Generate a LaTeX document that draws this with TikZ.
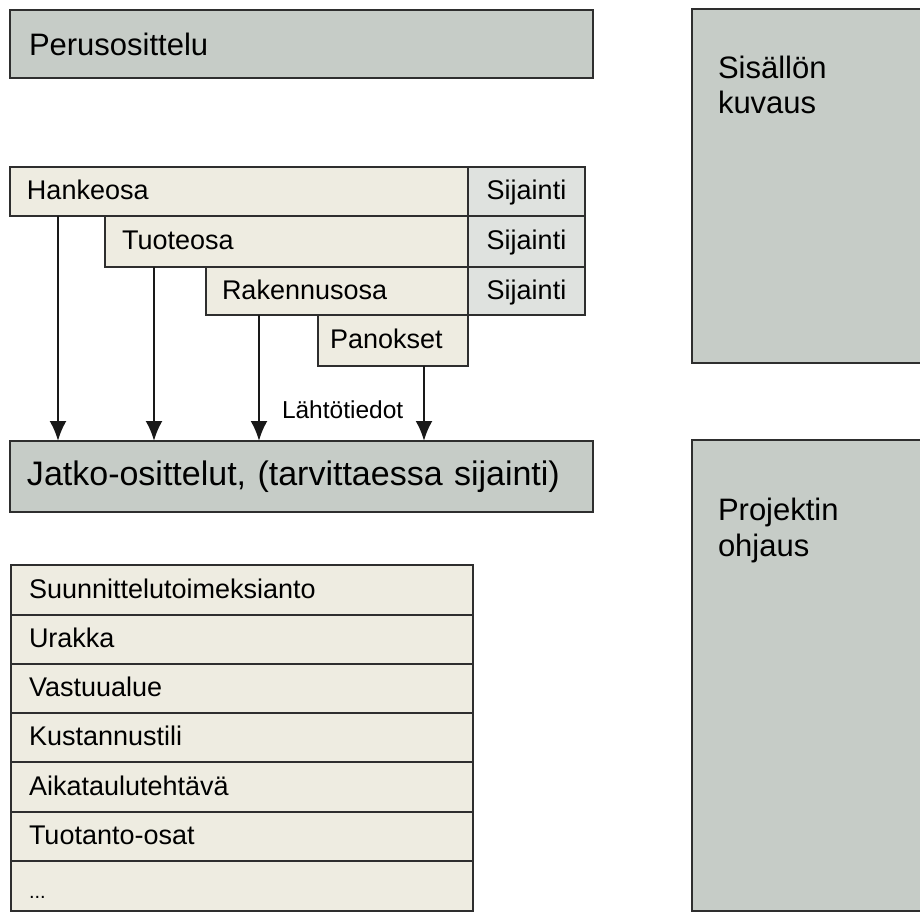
\documentclass[tikz,border=0pt]{standalone}
\usepackage{fontspec}
\setmainfont{Liberation Sans}
\usetikzlibrary{arrows.meta}
\definecolor{boxgray}{HTML}{C6CCC7}
\definecolor{beige}{HTML}{EEECE1}
\definecolor{sijgray}{HTML}{DFE2DF}
\definecolor{edge}{HTML}{2E2E2E}
\begin{document}
\begin{tikzpicture}[x=1pt,y=-1pt,
  panel/.style={draw=edge, line width=1.7pt, fill=boxgray, anchor=north west, inner ysep=0pt, outer sep=0pt, align=left},
  cell/.style={draw=edge, line width=1.3pt, fill=beige, anchor=north west, inner ysep=0pt, outer sep=0pt, align=left, text height=19pt, text depth=3pt, font=\fontsize{27}{30}\selectfont},
  sij/.style={cell, fill=sijgray, align=center, inner xsep=0pt},
  lab/.style={inner sep=0pt, outer sep=0pt},
  arr/.style={draw=black!90, line width=2.5pt, -{Latex[length=20pt,width=17pt]}}
]
\useasboundingbox (0,0) rectangle (920,913);
\fill[white] (0,0) rectangle (920,913);

% top panel
\node[panel, inner xsep=19pt, text width=545pt, minimum height=68pt, font=\fontsize{31}{36}\selectfont] (perus) at (10,10) {Perusosittelu};

% right panels
\node[panel, minimum width=240pt, minimum height=354pt] (sis) at (692,9) {};
\node[lab, anchor=north west, align=left, font=\fontsize{31}{35}\selectfont] (sistext) at (718,56) {Sisällön\\kuvaus};
\node[panel, minimum width=240pt, minimum height=471pt] (proj) at (692,440) {};
\node[lab, anchor=north west, align=left, font=\fontsize{31}{36}\selectfont] (projtext) at (718,498) {Projektin\\ohjaus};

% staircase
\node[cell, inner xsep=17pt, text width=424pt, minimum height=49pt] (hanke) at (10,167) {Hankeosa};
\node[cell, inner xsep=17pt, text width=329pt, minimum height=51pt] (tuote) at (105,216) {Tuoteosa};
\node[cell, inner xsep=16pt, text width=230pt, minimum height=48pt] (raken) at (206,267) {Rakennusosa};
\node[cell, inner xsep=12pt, text width=126pt, minimum height=51pt] (panos) at (318,315) {Panokset};
\node[sij, text width=117pt, minimum height=49pt] (s1) at (468,167) {Sijainti};
\node[sij, text width=117pt, minimum height=51pt] (s2) at (468,216) {Sijainti};
\node[sij, text width=117pt, minimum height=48pt] (s3) at (468,267) {Sijainti};

% lower panel
\node[panel, inner xsep=17pt, text width=549pt, minimum height=71pt, font=\fontsize{34}{40}\selectfont] (jatko) at (10,441) {Jatko-osittelut, (tarvittaessa sijainti)};

% arrows
\coordinate (x1) at (58,0);
\coordinate (x2) at (154,0);
\coordinate (x3) at (259,0);
\coordinate (x4) at (424,0);
\draw[arr] (hanke.south -| x1) -- (jatko.north -| x1);
\draw[arr] (tuote.south -| x2) -- (jatko.north -| x2);
\draw[arr] (raken.south -| x3) -- (jatko.north -| x3);
\draw[arr] (panos.south -| x4) -- (jatko.north -| x4);
\node[lab, anchor=base west, font=\fontsize{24.5}{28}\selectfont] (lahto) at (282,418) {Lähtötiedot};

% list
\node[cell, inner xsep=18pt, text width=426pt, minimum height=50pt] (r1) at (11,565) {Suunnittelutoimeksianto};
\node[cell, inner xsep=18pt, text width=426pt, minimum height=49pt] (r2) at (11,615) {Urakka};
\node[cell, inner xsep=18pt, text width=426pt, minimum height=49pt] (r3) at (11,664) {Vastuualue};
\node[cell, inner xsep=18pt, text width=426pt, minimum height=49pt] (r4) at (11,713) {Kustannustili};
\node[cell, inner xsep=18pt, text width=426pt, minimum height=50pt] (r5) at (11,762) {Aikataulutehtävä};
\node[cell, inner xsep=18pt, text width=426pt, minimum height=49pt] (r6) at (11,812) {Tuotanto-osat};
\node[cell, inner xsep=18pt, text width=426pt, minimum height=50pt] (r7) at (11,861) {};
\node[lab, anchor=base west, font=\fontsize{20}{22}\selectfont] (dots) at (29,898) {...};
\end{tikzpicture}
\end{document}
